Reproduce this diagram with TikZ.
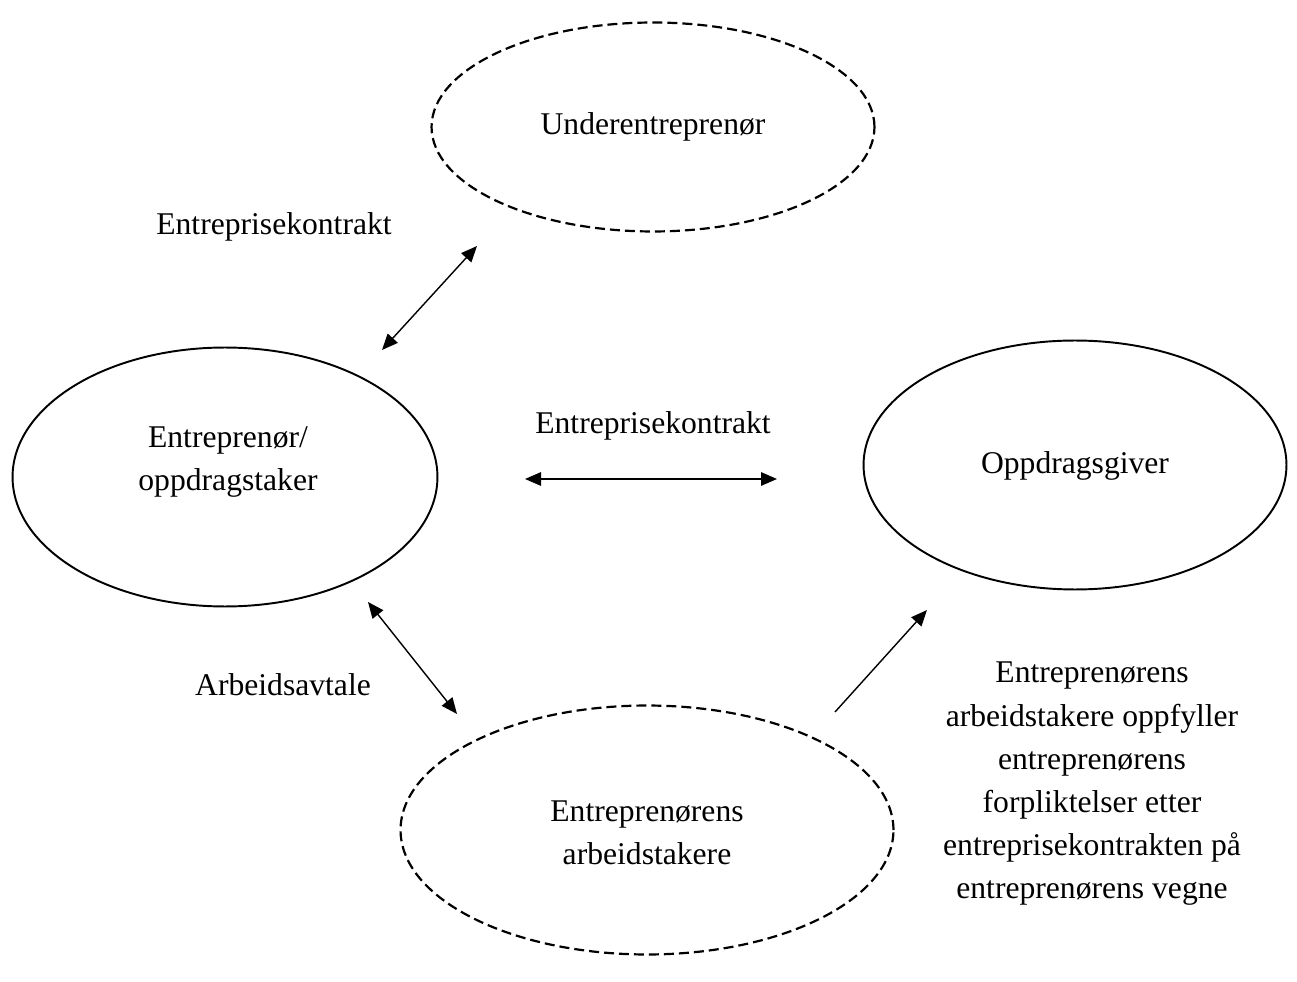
\documentclass[tikz,border=0pt]{standalone}
\usepackage{fontspec}
\setmainfont{Liberation Serif}
\usetikzlibrary{shapes.geometric,arrows.meta}
\begin{document}
\begin{tikzpicture}[x=0.02cm,y=-0.02cm,
  party/.style={draw, ellipse, line width=1.1pt, inner sep=0pt},
  dashedparty/.style={party, line width=1.25pt, dash pattern=on 0.2cm off 0.1cm},
  txt/.style={align=center, inner sep=0pt, font=\fontsize{18}{24.6}\selectfont},
  link/.style={line width=0.8pt, {Triangle[length=0.32cm,width=0.27cm]}-{Triangle[length=0.32cm,width=0.27cm]}},
  onelink/.style={line width=0.8pt, -{Triangle[length=0.32cm,width=0.27cm]}}]
\useasboundingbox (0,0) rectangle (1297,982);

% parties
\node[dashedparty, minimum width=8.86cm, minimum height=4.18cm] (sub) at (653,127) {};
\node[party, minimum width=8.5cm, minimum height=5.18cm] (ent) at (225,477) {};
\node[party, minimum width=8.46cm, minimum height=4.98cm] (giver) at (1075,465) {};
\node[dashedparty, minimum width=9.86cm, minimum height=4.98cm] (work) at (647,830) {};

% party names
\node[txt] (subtxt) at (653,127) {Underentreprenør};
\node[txt] (enttxt) at (228,462) {Entreprenør/\\oppdragstaker};
\node[txt] (givertxt) at (1075,466) {Oppdragsgiver};
\node[txt] (worktxt) at (647,833) {Entreprenørens\\arbeidstakere};

% relation labels
\node[txt] (lab1) at (274,227) {Entreprisekontrakt};
\node[txt] (lab2) at (653,426) {Entreprisekontrakt};
\node[txt] (lab3) at (283,685) {Arbeidsavtale};
\node[txt] (lab4) at (1092,784) {Entreprenørens\\arbeidstakere oppfyller\\entreprenørens\\forpliktelser etter\\entreprisekontrakten på\\entreprenørens vegne};

% connector end points
\coordinate (a1) at (382,350);
\coordinate (a2) at (477,246);
\coordinate (b1) at (525,479);
\coordinate (b2) at (777,479);
\coordinate (c1) at (368,602);
\coordinate (c2) at (457,714);
\coordinate (d1) at (835,712);
\coordinate (d2) at (927,610);

\draw[link] (a1) -- (a2);
\draw[link] (b1) -- (b2);
\draw[link] (c1) -- (c2);
\draw[onelink] (d1) -- (d2);
\end{tikzpicture}
\end{document}
